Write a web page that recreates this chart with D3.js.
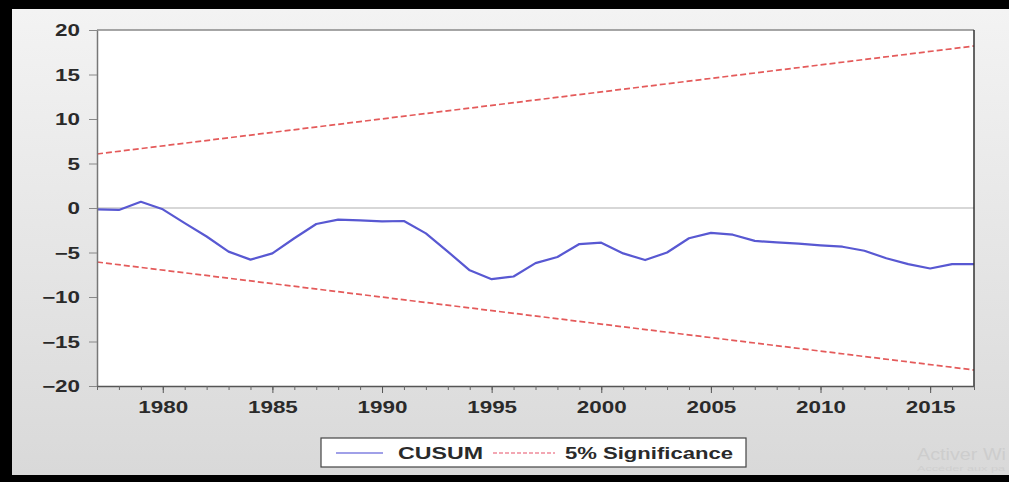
<!DOCTYPE html>
<html>
<head>
<meta charset="utf-8">
<script src="https://cdn.jsdelivr.net/npm/d3@7"></script>
<style>
  html, body { margin: 0; padding: 0; overflow: hidden; }
  body { width: 1009px; height: 482px; }
  text { font-family: "Liberation Sans", Arial, sans-serif; }
</style>
</head>
<body>
<script>
// ---- data ----
const years = d3.range(1977, 2018);
const cusum = [-0.15, -0.22, 0.7, -0.15, -1.7, -3.2, -4.9, -5.8, -5.1, -3.4,
               -1.8, -1.3, -1.4, -1.5, -1.46, -2.85, -4.9, -7.0, -8.0, -7.7,
               -6.2, -5.5, -4.05, -3.9, -5.1, -5.85, -5.0, -3.4, -2.8, -3.0,
               -3.7, -3.86, -4.0, -4.2, -4.35, -4.8, -5.65, -6.3, -6.8, -6.3, -6.3];
const boundYears = [1977, 2017];
const upperBound = [6.07, 18.2];
const lowerBound = [-6.07, -18.2];
const yTicks = [-20, -15, -10, -5, 0, 5, 10, 15, 20];
const xMajorTicks = [1980, 1985, 1990, 1995, 2000, 2005, 2010, 2015];
const legendLabels = ["CUSUM", "5% Significance"];

const W = 1009, H = 482;
const pL = 97, pR = 974, pT = 30, pB = 386;
const STRETCH = 1.4;

const svg = d3.select("body").append("svg").attr("width", W).attr("height", H);

const defs = svg.append("defs");
const grad = defs.append("linearGradient").attr("id", "bg").attr("x1", 0).attr("y1", 0).attr("x2", 0).attr("y2", 1);
grad.append("stop").attr("offset", "0%").attr("stop-color", "#f3f3f3");
grad.append("stop").attr("offset", "100%").attr("stop-color", "#d9d9d9");

function stretch(sel, f) {
  sel.each(function () {
    const w = this.getComputedTextLength();
    d3.select(this).attr("textLength", w * (f || STRETCH)).attr("lengthAdjust", "spacingAndGlyphs");
  });
}

// black frame + background
svg.append("rect").attr("width", W).attr("height", H).attr("fill", "#000");
svg.append("rect").attr("x", 12).attr("y", 9).attr("width", W - 12).attr("height", 466).attr("fill", "url(#bg)");

const x = d3.scaleLinear().domain([1977, 2017]).range([pL, pR]);
const y = d3.scaleLinear().domain([-20, 20]).range([pB, pT]);

// plot area
svg.append("rect").attr("x", pL).attr("y", pT).attr("width", pR - pL).attr("height", pB - pT)
  .attr("fill", "#fff");

// zero line
svg.append("line").attr("x1", pL).attr("x2", pR).attr("y1", y(0)).attr("y2", y(0))
  .attr("stroke", "#b0b0b0").attr("stroke-width", 1.2);

// bounds
const bLine = d3.line().x((d, i) => x(boundYears[i])).y(d => y(d));
[upperBound, lowerBound].forEach(b => {
  svg.append("path").attr("d", bLine(b)).attr("fill", "none")
    .attr("stroke", "#e45a5a").attr("stroke-width", 1.7).attr("stroke-dasharray", "6,3");
});

// cusum
const cLine = d3.line().x((d, i) => x(years[i])).y(d => y(d));
svg.append("path").attr("d", cLine(cusum)).attr("fill", "none")
  .attr("stroke", "#5858d2").attr("stroke-width", 2.2).attr("stroke-linejoin", "round");

// borders
svg.append("line").attr("x1", pL).attr("x2", pR).attr("y1", pT).attr("y2", pT).attr("stroke", "#888").attr("stroke-width", 1.5);
svg.append("line").attr("x1", pR).attr("x2", pR).attr("y1", pT).attr("y2", pB).attr("stroke", "#333").attr("stroke-width", 1.5);

// y axis
const yAxis = d3.axisLeft(y).tickValues(yTicks).tickSize(8).tickPadding(9).tickSizeOuter(0);
const gy = svg.append("g").attr("transform", `translate(${pL},0)`).call(yAxis);
gy.select(".domain").attr("stroke", "#777").attr("stroke-width", 1.5);
gy.selectAll(".tick line").attr("stroke", "#888");
gy.selectAll(".tick text").attr("font-size", 16).attr("fill", "#2a2a2a").attr("font-weight", "bold")
  .attr("font-family", "Liberation Sans, Arial, sans-serif").attr("dy", "0.35em")
  .call(stretch);

// x axis
const xMinor = d3.axisBottom(x).tickValues(years).tickSize(4).tickFormat("").tickSizeOuter(0);
const gxm = svg.append("g").attr("transform", `translate(0,${pB})`).call(xMinor);
gxm.select(".domain").attr("stroke", "#555").attr("stroke-width", 1.5);
gxm.selectAll(".tick line").attr("stroke", "#666");
const xAxis = d3.axisBottom(x).tickValues(xMajorTicks).tickSize(7).tickPadding(9).tickFormat(d3.format("d")).tickSizeOuter(0);
const gx = svg.append("g").attr("transform", `translate(0,${pB})`).call(xAxis);
gx.select(".domain").remove();
gx.selectAll(".tick line").attr("stroke", "#555");
gx.selectAll(".tick text").attr("font-size", 16).attr("fill", "#2a2a2a").attr("font-weight", "bold")
  .attr("font-family", "Liberation Sans, Arial, sans-serif")
  .call(stretch);

// legend
const lg = svg.append("g");
lg.append("rect").attr("x", 321).attr("y", 438).attr("width", 425).attr("height", 29)
  .attr("fill", "#fff").attr("stroke", "#444").attr("stroke-width", 1.2);
lg.append("line").attr("x1", 336).attr("x2", 383).attr("y1", 453).attr("y2", 453)
  .attr("stroke", "#8080e0").attr("stroke-width", 1.5);
lg.append("text").attr("x", 398).attr("y", 459).attr("font-size", 16).attr("fill", "#2a2a2a").attr("font-weight", "bold")
  .text(legendLabels[0]).attr("textLength", 85).attr("lengthAdjust", "spacingAndGlyphs");
lg.append("line").attr("x1", 493).attr("x2", 555).attr("y1", 453).attr("y2", 453)
  .attr("stroke", "#f08a9a").attr("stroke-width", 1.5).attr("stroke-dasharray", "4,2");
lg.append("text").attr("x", 565).attr("y", 459).attr("font-size", 16).attr("fill", "#2a2a2a").attr("font-weight", "bold")
  .text(legendLabels[1]).attr("textLength", 168).attr("lengthAdjust", "spacingAndGlyphs");

// watermark (visible part only, as in the reference)
svg.append("text").attr("x", 917).attr("y", 460).attr("font-size", 17).attr("fill", "#cdcdcd")
  .attr("font-family", "Open Sans, sans-serif").text("Activer Wi")
  .attr("textLength", 89).attr("lengthAdjust", "spacingAndGlyphs");
svg.append("text").attr("x", 917).attr("y", 471).attr("font-size", 8).attr("fill", "#cfcfcf")
  .attr("font-family", "Open Sans, sans-serif").text("Accéder aux pa")
  .attr("textLength", 88).attr("lengthAdjust", "spacingAndGlyphs");
</script>
</body>
</html>
